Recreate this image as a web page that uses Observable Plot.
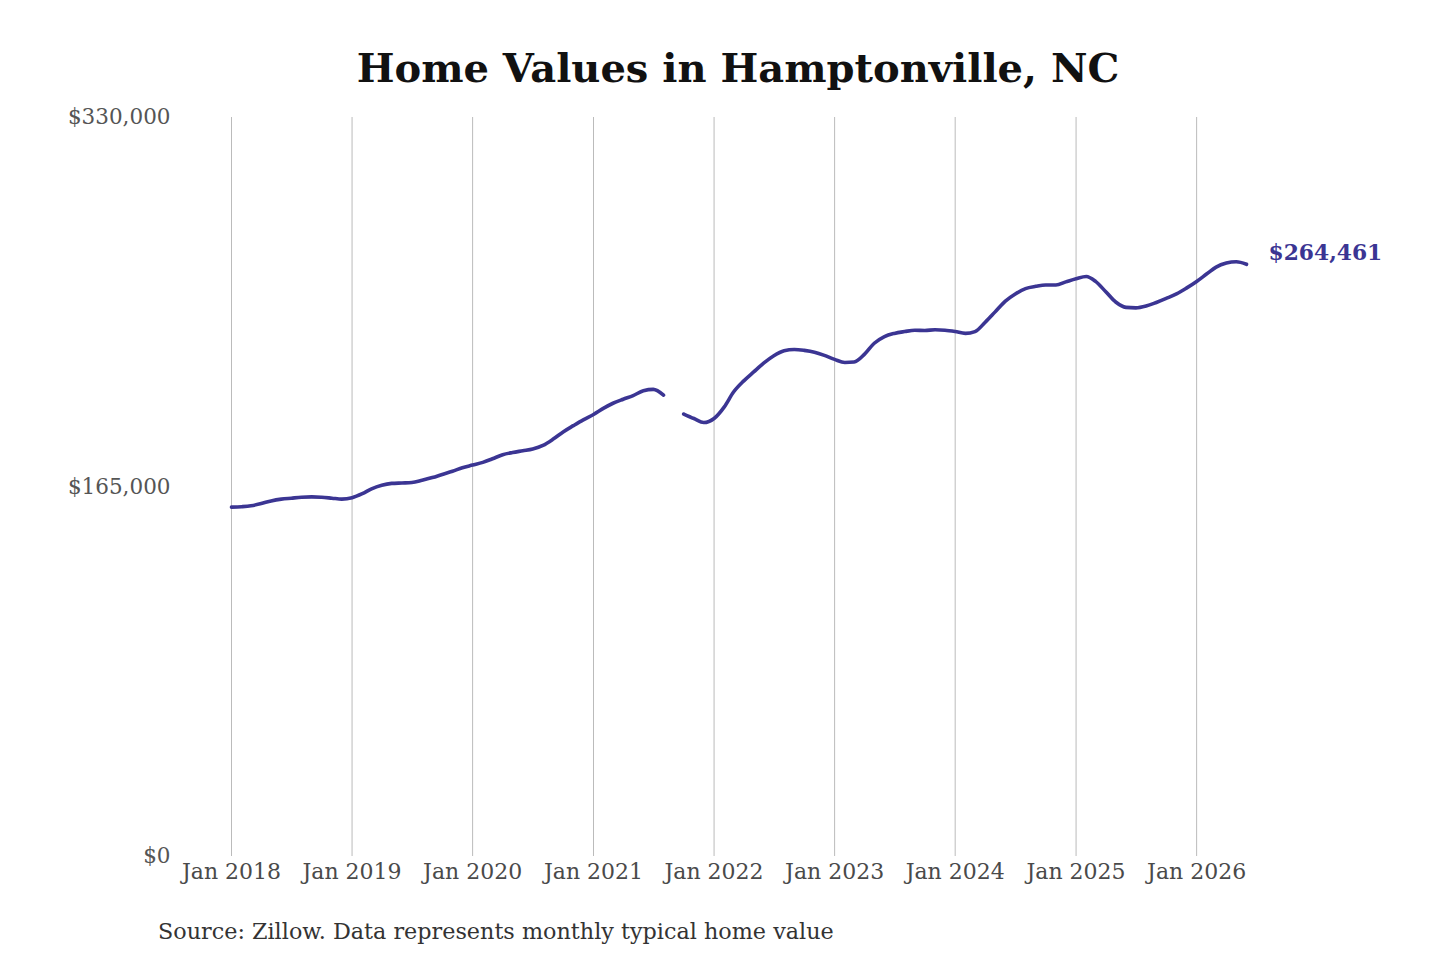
<!DOCTYPE html>
<html>
<head>
<meta charset="utf-8">
<script src="https://cdn.jsdelivr.net/npm/d3@7"></script>
<script src="https://cdn.jsdelivr.net/npm/@observablehq/plot@0.6"></script>
<style>
  html, body { margin: 0; padding: 0; background: #fff; }
  body { width: 1440px; height: 960px; overflow: hidden; font-family: "DejaVu Serif", serif; }
  #title { height: 100px; box-sizing: border-box; padding-top: 48px; padding-left: 36px; line-height: 40px;
           text-align: center; font-size: 40px; font-weight: bold; color: #111; }
  #chart svg { display: block; }
  #caption { margin-top: 18px; padding-left: 158px; font-size: 22.3px; line-height: 26px; color: #333; }
</style>
</head>
<body>
<div id="title">Home Values in Hamptonville, NC</div>
<div id="chart"></div>
<div id="caption">Source: Zillow. Data represents monthly typical home value</div>
<script>
// Monthly typical home value, Jan 2018 .. Jun 2026 (null = missing month)
const startMonth = "2018-01";
const homeValues = [
  156000, 156200, 156600, 157600, 158800, 159600, 160000, 160400, 160600, 160400, 160000, 159600,
  160200, 162000, 164200, 165800, 166600, 166800, 167000, 168000, 169200, 170600, 172000, 173600,
  174800, 176000, 177600, 179400, 180400, 181200, 182000, 183600, 186400, 189600, 192400, 195000,
  197400, 200200, 202400, 204200, 205800, 208000, 208600, 206000, null, 197600, 195600, 193800,
  195600, 200800, 207400, 212400, 216400, 220400, 223600, 225800, 226400, 226000, 225200, 223800,
  222000, 220600, 220800, 224200, 229200, 232200, 233600, 234400, 235000, 234900, 235200, 235000,
  234400, 233600, 234400, 238600, 243200, 248000, 251200, 253600, 254600, 255200, 255200, 256600,
  258000, 259000, 256800, 252200, 247600, 245200, 245000, 245800, 247400, 249200, 251200, 253800,
  256800, 260200, 263200, 265000, 265600, 264461
];
const yTicks = [0, 165000, 330000];
const xTickYears = [2018, 2019, 2020, 2021, 2022, 2023, 2024, 2025, 2026];

const start = new Date(startMonth + "-01T00:00:00Z");
const data = homeValues.map((v, i) => ({ date: d3.utcMonth.offset(start, i), value: v }));
const xTicks = xTickYears.map(y => new Date(Date.UTC(y, 0, 1)));
const last = data[data.length - 1];
const lineColor = "#3b3593";
const money = d => "$" + d3.format(",")(d);

const chart = Plot.plot({
  width: 1440,
  height: 800,
  marginTop: 17,
  marginBottom: 44,
  marginLeft: 231,
  marginRight: 194,
  style: { fontFamily: "DejaVu Serif, serif", fontSize: "22px", color: "#555", background: "#fff" },
  x: { type: "utc", domain: [data[0].date, last.date], label: null },
  y: { domain: [0, 330000], label: null },
  marks: [
    Plot.gridX(xTicks, { stroke: "#bbb", strokeOpacity: 1, strokeWidth: 1 }),
    Plot.axisX(xTicks, { tickSize: 0, tickPadding: 7, tickFormat: d3.utcFormat("Jan %Y"), fill: "#4a4a4a", fontSize: 22, label: null }),
    Plot.axisY(yTicks, { tickSize: 0, tickPadding: 61, tickFormat: money, fill: "#555", fontSize: 21.5, label: null }),
    Plot.line(data, { x: "date", y: "value", stroke: lineColor, strokeWidth: 3.6, curve: "monotone-x" }),
    Plot.text([last], { x: "date", y: "value", text: d => money(d.value), textAnchor: "start", dx: 22, dy: -11,
      fill: lineColor, fontWeight: "bold", fontSize: 21.8 })
  ]
});
document.getElementById("chart").appendChild(chart);
</script>
</body>
</html>
